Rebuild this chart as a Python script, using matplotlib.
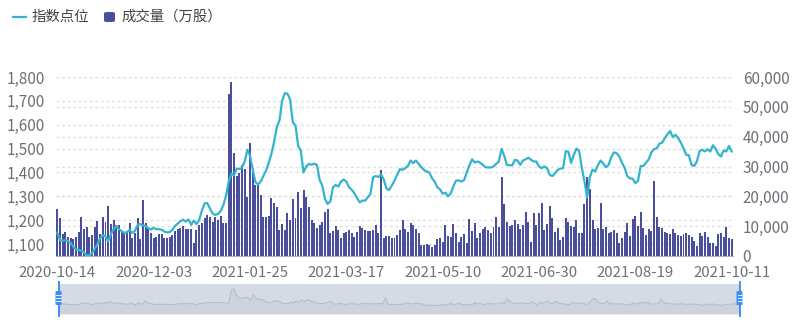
import numpy as np
import matplotlib
matplotlib.use('Agg')
import matplotlib.pyplot as plt
from matplotlib.transforms import blended_transform_factory
from matplotlib.patches import FancyBboxPatch
from matplotlib.lines import Line2D
from matplotlib.ticker import FuncFormatter

plt.rcParams['font.family'] = ['Noto Sans CJK SC', 'DejaVu Sans']

# x axis labels, shown every 36 trading days
tick_labels = ['2020-10-14', '2020-12-03', '2021-01-25', '2021-03-17',
               '2021-05-10', '2021-06-30', '2021-08-19', '2021-10-11']
tick_step = 36

# 指数点位 (daily close)
index_points = [
    1147, 1116, 1114, 1116, 1112, 1105, 1088, 1077, 1076, 1072,
    1065, 1052, 1054, 1062, 1080, 1100, 1125, 1137, 1132, 1112,
    1140, 1162, 1175, 1163, 1154, 1147, 1150, 1159, 1147, 1155,
    1180, 1184, 1178, 1175, 1166, 1161, 1168, 1163, 1162, 1160,
    1152, 1149, 1150, 1160, 1176, 1186, 1196, 1202, 1194, 1203,
    1181, 1198, 1184, 1200, 1240, 1270, 1272, 1250, 1228, 1222,
    1226, 1238, 1262, 1300, 1360, 1395, 1388, 1416, 1415, 1420,
    1445, 1495, 1470, 1415, 1360, 1350, 1362, 1385, 1408, 1440,
    1478, 1528, 1590, 1618, 1700, 1732, 1730, 1705, 1610, 1596,
    1512, 1490, 1400, 1425, 1436, 1432, 1437, 1432, 1370, 1345,
    1290, 1268, 1278, 1338, 1348, 1341, 1362, 1370, 1362, 1338,
    1328, 1313, 1292, 1275, 1282, 1282, 1296, 1310, 1380, 1385,
    1381, 1392, 1370, 1332, 1327, 1345, 1366, 1390, 1414, 1411,
    1418, 1427, 1450, 1439, 1450, 1436, 1422, 1411, 1404, 1400,
    1376, 1362, 1338, 1329, 1311, 1315, 1300, 1312, 1342, 1366,
    1367, 1362, 1368, 1400, 1430, 1455, 1442, 1446, 1441, 1432,
    1422, 1421, 1421, 1425, 1436, 1446, 1499, 1470, 1432, 1430,
    1430, 1453, 1450, 1432, 1450, 1455, 1462, 1453, 1446, 1446,
    1425, 1418, 1425, 1418, 1390, 1385, 1397, 1411, 1416, 1418,
    1490, 1486, 1440, 1474, 1500, 1490, 1420, 1362, 1295, 1380,
    1412, 1404, 1430, 1450, 1438, 1422, 1432, 1464, 1484, 1481,
    1467, 1441, 1420, 1385, 1375, 1374, 1355, 1365, 1427, 1427,
    1441, 1455, 1484, 1497, 1502, 1520, 1525, 1543, 1560, 1574,
    1548, 1558, 1545, 1525, 1502, 1474, 1472, 1432, 1427, 1446,
    1490, 1495, 1488, 1497, 1488, 1514, 1500, 1477, 1467, 1492,
    1488, 1511, 1488,
]

# 成交量（万股）
volume = [
    15700, 12600, 7400, 7900, 6300, 6000, 5700, 6500, 7900, 13200,
    9000, 9800, 6300, 7000, 9800, 11700, 7400, 13200, 11500, 16800,
    10700, 12000, 10400, 10400, 7900, 7600, 7600, 11200, 5900, 7600,
    12900, 5600, 18800, 11200, 9800, 7800, 5900, 6500, 7400, 7300,
    5900, 5900, 6300, 7000, 8500, 9000, 9500, 10000, 9000, 9000,
    9000, 4500, 8700, 10400, 11000, 12600, 13800, 13200, 11500, 13200,
    12100, 13500, 11000, 11200, 54400, 58200, 34500, 26900, 27800, 30500,
    29100, 19900, 37800, 28900, 23800, 23800, 20500, 13200, 13200, 13500,
    19400, 17900, 16300, 8700, 10700, 8800, 14500, 11900, 19000, 12800,
    21600, 16000, 22100, 19900, 16300, 11900, 11200, 9300, 10400, 11500,
    14900, 15700, 7600, 8400, 10100, 8700, 5900, 7800, 8200, 8700,
    7600, 6500, 8200, 10100, 9300, 8700, 8500, 8500, 8700, 10400,
    7800, 28900, 5900, 6700, 6700, 5900, 5900, 7000, 8700, 12100,
    9000, 8200, 11200, 10400, 9000, 7600, 3700, 3700, 4000, 3700,
    3100, 3700, 5600, 5900, 4800, 10400, 6700, 6500, 10600, 7800,
    4800, 6500, 7400, 4300, 12300, 8400, 11200, 5900, 7600, 9000,
    9800, 8700, 7600, 9800, 13200, 9800, 26400, 17500, 11500, 10100,
    10400, 11900, 10700, 9000, 10400, 14900, 11500, 4800, 14500, 10400,
    14300, 17900, 8700, 10700, 16800, 12600, 8200, 9300, 5400, 6500,
    12600, 11500, 10100, 9600, 11900, 7600, 7800, 17500, 26400, 22400,
    11900, 9000, 9300, 17900, 9000, 9800, 7600, 8200, 8700, 7800,
    4500, 5900, 8200, 11200, 6800, 12300, 13400, 10100, 14900, 9300,
    7000, 9000, 8500, 25000, 13200, 9800, 9300, 8200, 7600, 7400,
    9000, 7800, 7000, 6700, 7400, 7600, 7000, 6500, 5000, 3400,
    7600, 6700, 7900, 6500, 4500, 4300, 3500, 7300, 7600, 6500,
    9800, 5900, 5600,
]

line_color = '#34b3cd'
bar_color = '#4a4f9c'
text_color = '#6e7079'
grid_color = '#e0e0e0'

n = len(volume)
x = np.arange(n)
W, H = 800, 328


def fx(px):
    return px / W


def fy(py):
    return (H - py) / H


fig = plt.figure(figsize=(W / 100, H / 100), dpi=100)

# bars on the base axes (right scale), line on the twin (left scale) so it sits on top
ax = fig.add_axes([fx(56), fy(256), fx(733) - fx(56), fy(77) - fy(256)])
ax_line = ax.twinx()

ax.bar(x, volume, width=0.74, color=bar_color, zorder=2)
ax.set_ylim(0, 60000)
ax.set_yticks(range(0, 60001, 10000))
ax.yaxis.tick_right()
ax.yaxis.set_major_formatter(FuncFormatter(lambda v, p: f'{v:,.0f}'))

ax_line.plot(x, index_points, color=line_color, lw=1.6, zorder=3)
ax_line.set_ylim(1050, 1800)
ax_line.set_yticks(range(1100, 1801, 100))
ax_line.yaxis.tick_left()
ax_line.yaxis.set_major_formatter(FuncFormatter(lambda v, p: f'{v:,.0f}'))

ax.set_xlim(-0.5, n - 0.5)
ax.set_xticks([i * tick_step for i in range(len(tick_labels))])
ax.set_xticklabels(tick_labels)

# dotted split lines for both scales, kept under the bars
for v in range(10000, 60001, 10000):
    ax.axhline(v, color=grid_color, lw=1, ls=(0, (2, 2)), zorder=1)
left_trans = blended_transform_factory(ax.transAxes, ax_line.transData)
for v in range(1100, 1801, 100):
    ax.plot([0, 1], [v, v], transform=left_trans, color=grid_color, lw=1,
            ls=(0, (2, 2)), zorder=1)

for a in (ax, ax_line):
    for s in a.spines.values():
        s.set_visible(False)
    a.tick_params(length=0, labelsize=11, labelcolor=text_color)
ax.spines['bottom'].set_visible(True)
ax.spines['bottom'].set_color('#b0b3bb')
ax.tick_params(axis='y', pad=7)
ax.tick_params(axis='x', pad=7.5, labelsize=10.8)
ax_line.tick_params(axis='y', pad=8)

# legend
fig.add_artist(Line2D([fx(13), fx(26)], [fy(17), fy(17)], color=line_color, lw=1.6))
fig.text(fx(32), fy(17), '指数点位', fontsize=10.4, color='#444444', va='center', ha='left')
fig.add_artist(FancyBboxPatch((fx(104), fy(22)), fx(11), fy(12) - fy(22),
                              boxstyle='round,pad=0,rounding_size=0.004',
                              transform=fig.transFigure, color=bar_color, lw=0))
fig.text(fx(121), fy(17), '成交量（万股）', fontsize=10.4, color='#444444', va='center', ha='left')

# zoom slider with volume shadow
ax_s = fig.add_axes([fx(58.5), fy(314), fx(739.5) - fx(58.5), fy(284) - fy(314)])
ax_s.set_facecolor('#d5dbe4')
vmin, vmax = min(volume), max(volume)
lo = vmin - 8.5 / 16.5 * (vmax - vmin)
hi = lo + 30 / 16.5 * (vmax - vmin)
ax_s.fill_between(x, lo, volume, color='#cdd2db', lw=0)
ax_s.plot(x, volume, color='#b8bdc7', lw=0.8)
ax_s.set_ylim(lo, hi)
ax_s.set_xlim(0, n - 1)
ax_s.set_xticks([])
ax_s.set_yticks([])
for s in ax_s.spines.values():
    s.set_visible(False)

handle_color = '#3d8ff0'
for hx in (58.5, 739.5):
    fig.add_artist(Line2D([fx(hx), fx(hx)], [fy(282), fy(316)], color=handle_color, lw=1.4))
    fig.add_artist(FancyBboxPatch((fx(hx - 3), fy(305)), fx(6), fy(291) - fy(305),
                                  boxstyle='round,pad=0,rounding_size=0.002',
                                  transform=fig.transFigure, color=handle_color, lw=0))
    for hy in (295, 298, 301):
        fig.add_artist(Line2D([fx(hx - 2), fx(hx + 2)], [fy(hy), fy(hy)], color='white', lw=0.6))

fig.savefig('out.png', dpi=100)
